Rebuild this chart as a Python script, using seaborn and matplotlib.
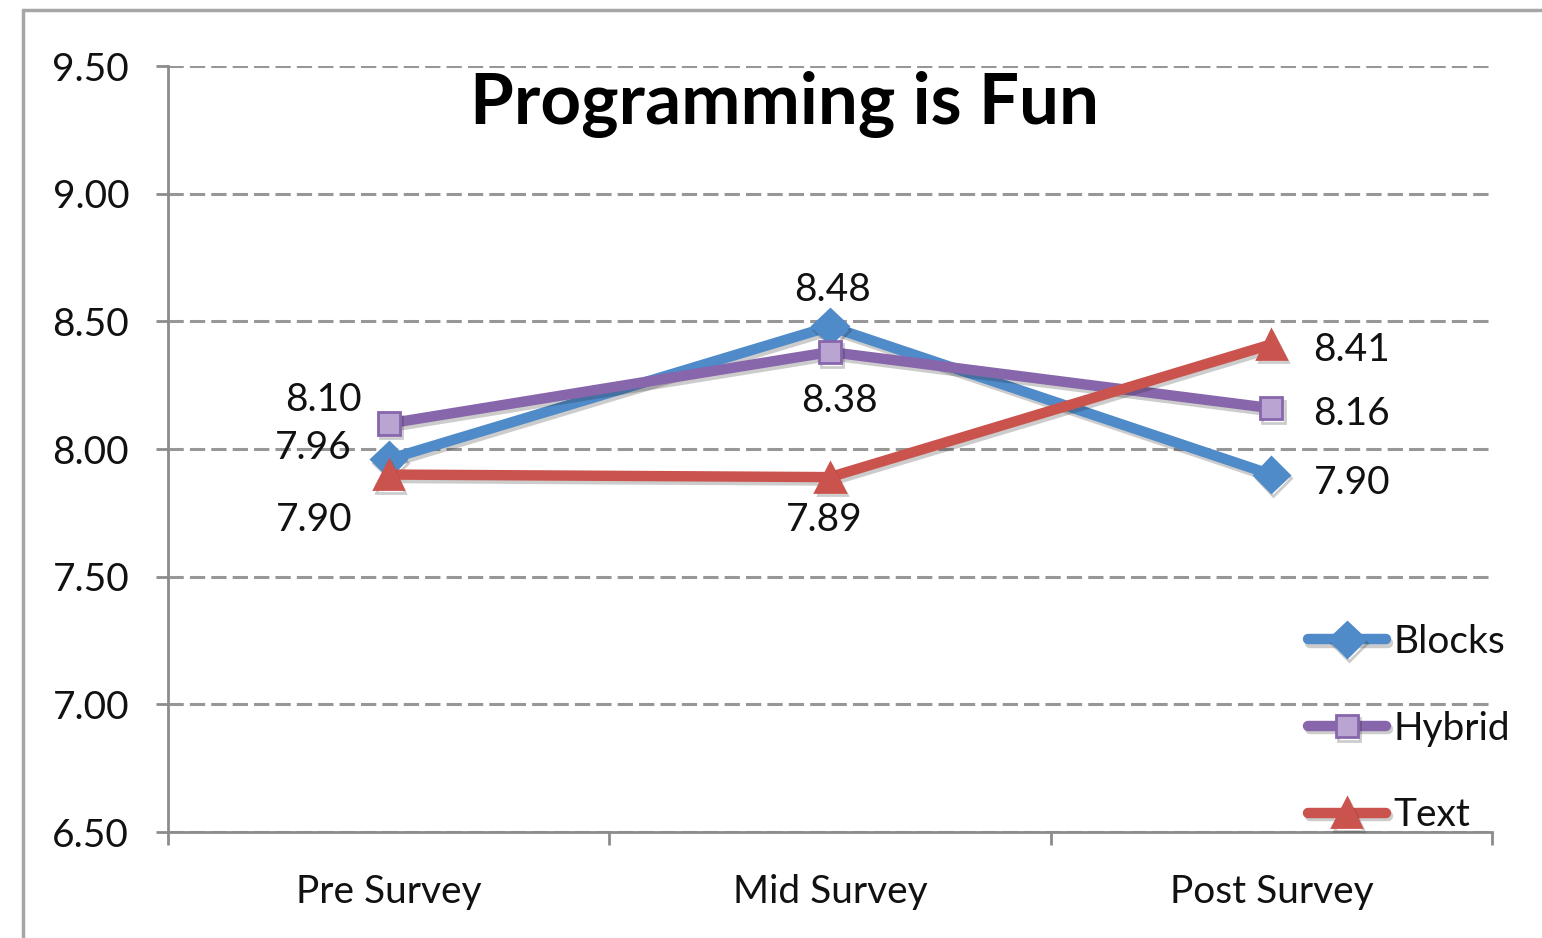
import matplotlib
matplotlib.use("Agg")
import matplotlib.pyplot as plt
import matplotlib.lines as mlines
import matplotlib.patheffects as pe
from matplotlib.ticker import FixedLocator, FormatStrFormatter
import seaborn as sns
import pandas as pd

# data
surveys = ["Pre Survey", "Mid Survey", "Post Survey"]
blocks = [7.96, 8.48, 7.90]
hybrid = [8.10, 8.38, 8.16]
text = [7.90, 7.89, 8.41]
series_names = ["Blocks", "Hybrid", "Text"]

sns.set_theme(style="white")
plt.rcParams["font.family"] = ["Lato", "DejaVu Sans"]

colors = {"Blocks": "#4F8AC9", "Hybrid": "#8766AC", "Text": "#CB534D"}
faces = {"Blocks": "#4F8AC9", "Hybrid": "#B9A4D2", "Text": "#CB534D"}
markers = {"Blocks": "D", "Hybrid": "s", "Text": "^"}
msize = {"Blocks": 18, "Hybrid": 16, "Text": 21}
# label offsets in points, per series, per survey
offsets = {
    "Blocks": [(-54, 8), (2, 26), (58, -6)],
    "Hybrid": [(-47, 17), (7, -35), (58, -4)],
    "Text": [(-54, -33), (-4, -31), (58, -4)],
}

df = pd.DataFrame({"Survey": surveys * 3,
                   "Score": blocks + hybrid + text,
                   "Group": [n for n in series_names for _ in surveys]})

fig = plt.figure(figsize=(15.42, 9.38), dpi=100)
ax = fig.add_axes([0.109, 0.113, 0.8586, 0.8166])

for name in series_names:
    sub = df[df["Group"] == name]
    sns.lineplot(data=sub, x="Survey", y="Score", ax=ax, color=colors[name],
                 marker=markers[name], markersize=msize[name],
                 markerfacecolor=faces[name], markeredgecolor=colors[name],
                 markeredgewidth=2, linewidth=7.5, label=name, zorder=3,
                 path_effects=[pe.SimpleLineShadow(offset=(1.5, -2.5), alpha=0.22),
                               pe.Normal()])
    for i, (xv, yv) in enumerate(zip(sub["Survey"], sub["Score"])):
        ax.annotate(f"{yv:.2f}", (i, yv), xytext=offsets[name][i],
                    textcoords="offset points", ha="center", va="center",
                    fontsize=28, color="#111111", zorder=4)

ax.set_xlim(-0.5, 2.5)
ax.set_ylim(6.5, 9.5)
ax.yaxis.set_major_locator(FixedLocator([6.5, 7.0, 7.5, 8.0, 8.5, 9.0, 9.5]))
ax.yaxis.set_major_formatter(FormatStrFormatter("%.2f"))
ax.xaxis.set_minor_locator(FixedLocator([-0.5, 0.5, 1.5, 2.5]))
ax.tick_params(axis="x", which="major", length=0, pad=30, labelsize=28,
               labelcolor="#111111")
ax.tick_params(axis="x", which="minor", length=9, width=2, color="#8c8c8c",
               direction="out", bottom=True)
ax.tick_params(axis="y", length=9, width=2, color="#8c8c8c", pad=19,
               labelsize=28, left=True, labelcolor="#111111")
ax.set_xlabel("")
ax.set_ylabel("")

ax.yaxis.grid(True, linestyle=(0, (5, 2)), linewidth=2.2, color="#979797", zorder=0)
ax.set_axisbelow(True)
for s in ["top", "right"]:
    ax.spines[s].set_visible(False)
for s in ["left", "bottom"]:
    ax.spines[s].set_color("#8c8c8c")
    ax.spines[s].set_linewidth(2)

ax.legend(loc="upper left", bbox_to_anchor=(1308 / 1542, 1 - 624 / 938),
          bbox_transform=fig.transFigure, frameon=False, fontsize=28,
          handlelength=2.0, handletextpad=0.2, labelspacing=1.3,
          borderpad=0, borderaxespad=0)
for t in ax.get_legend().get_texts():
    t.set_color("#111111")

fig.text(785 / 1542, 1 - 105 / 938, "Programming is Fun", ha="center",
         va="center", fontsize=51, fontweight="bold", color="black")

# outer chart frame (its right and bottom sides fall outside the image)
x0, y0 = 23 / 1542, 1 - 10 / 938
fig.add_artist(mlines.Line2D([x0, x0], [-0.1, y0], transform=fig.transFigure,
                             color="#a6a6a6", linewidth=2.5))
fig.add_artist(mlines.Line2D([x0, 1.1], [y0, y0], transform=fig.transFigure,
                             color="#a6a6a6", linewidth=2.5))

fig.savefig("out.png", dpi=100)
